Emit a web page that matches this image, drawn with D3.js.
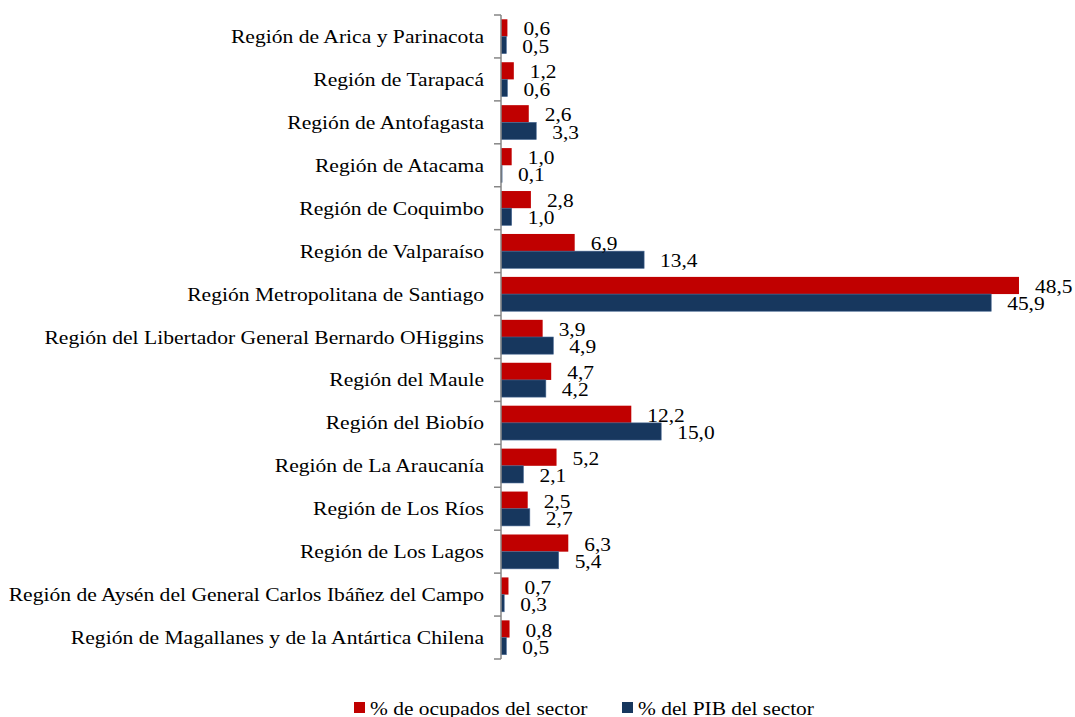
<!DOCTYPE html>
<html>
<head>
<meta charset="utf-8">
<script src="https://cdn.jsdelivr.net/npm/d3@7"></script>
<style>
  body { margin: 0; background: #fff; }
</style>
</head>
<body>
<div id="chart"></div>
<script>
const categories = [
  'Región de Arica y Parinacota',
  'Región de Tarapacá',
  'Región de Antofagasta',
  'Región de Atacama',
  'Región de Coquimbo',
  'Región de Valparaíso',
  'Región Metropolitana de Santiago',
  'Región del Libertador General Bernardo OHiggins',
  'Región del Maule',
  'Región del Biobío',
  'Región de La Araucanía',
  'Región de Los Ríos',
  'Región de Los Lagos',
  'Región de Aysén del General Carlos Ibáñez del Campo',
  'Región de Magallanes y de la Antártica Chilena'
]
const ocupados = [0.6, 1.2, 2.6, 1.0, 2.8, 6.9, 48.5, 3.9, 4.7, 12.2, 5.2, 2.5, 6.3, 0.7, 0.8]
const pib = [0.5, 0.6, 3.3, 0.1, 1.0, 13.4, 45.9, 4.9, 4.2, 15.0, 2.1, 2.7, 5.4, 0.3, 0.5]
const seriesNames = ['% de ocupados del sector', '% del PIB del sector']

const config = {
  width: 1075,
  height: 717,
  axisX: 501,
  plotTop: 15,
  plotBottom: 659,
  xMax: 50,
  pxPerUnit: 10.68,
  stretch: 1.19,
  colors: ['#C00000', '#17375E']
}

const fmt = v => d3.format('.1f')(v).replace('.', ',')
const stretchAt = (x, y, k = config.stretch) => `translate(${x},${y}) scale(${k},1)`

const svg = d3.select('#chart').append('svg')
  .attr('width', config.width)
  .attr('height', config.height)
  .attr('font-family', 'Liberation Serif')
  .attr('font-size', 18)

const x = d3.scaleLinear()
  .domain([0, config.xMax])
  .range([config.axisX, config.axisX + config.xMax * config.pxPerUnit])

const y = d3.scaleBand()
  .domain(categories)
  .range([config.plotTop, config.plotBottom])
  .paddingInner(0.2)
  .paddingOuter(0.1)

const sub = d3.scaleBand()
  .domain([0, 1])
  .range([0, y.bandwidth()])

const rows = categories.map((c, i) => ({ label: c, values: [ocupados[i], pib[i]] }))

// bars
const groups = svg.selectAll('.row')
  .data(rows)
  .enter()
  .append('g')
  .attr('class', 'row')
  .attr('transform', d => `translate(0,${y(d.label)})`)

groups.selectAll('rect')
  .data(d => d.values.map((v, s) => ({ v, s })))
  .enter()
  .append('rect')
  .attr('x', x(0))
  .attr('y', d => sub(d.s))
  .attr('width', d => x(d.v) - x(0))
  .attr('height', sub.bandwidth())
  .attr('fill', d => config.colors[d.s])
  .attr('stroke', d => d.s === 1 ? '#4a6a94' : 'none')
  .attr('stroke-width', 0.6)

// value labels
groups.selectAll('text.value')
  .data(d => d.values.map((v, s) => ({ v, s })))
  .enter()
  .append('text')
  .attr('class', 'value')
  .attr('transform', d => stretchAt(x(d.v) + 16, sub(d.s) + sub.bandwidth() - 1))
  .text(d => fmt(d.v))

// axis line and ticks
const step = y.step()
const tickYs = d3.range(categories.length + 1).map(i => config.plotTop + i * step)
svg.append('line')
  .attr('x1', config.axisX).attr('x2', config.axisX)
  .attr('y1', config.plotTop).attr('y2', config.plotBottom)
  .attr('stroke', '#868686').attr('stroke-width', 1.5)
svg.selectAll('.tick')
  .data(tickYs)
  .enter()
  .append('line')
  .attr('x1', config.axisX - 7).attr('x2', config.axisX)
  .attr('y1', d => d).attr('y2', d => d)
  .attr('stroke', '#868686').attr('stroke-width', 1.5)

// category labels
svg.selectAll('.cat')
  .data(categories)
  .enter()
  .append('text')
  .attr('class', 'cat')
  .attr('text-anchor', 'end')
  .attr('transform', d => stretchAt(484, y(d) + y.bandwidth() / 2 + 6.5, 1.2))
  .text(d => d)

// legend
const legendItems = [{ x: 354, s: 0 }, { x: 622, s: 1 }]
const legend = svg.selectAll('.legend')
  .data(legendItems)
  .enter()
  .append('g')
  .attr('class', 'legend')
legend.append('rect')
  .attr('x', d => d.x).attr('y', 702)
  .attr('width', 11).attr('height', 11)
  .attr('fill', d => config.colors[d.s])
legend.append('text')
  .attr('transform', d => stretchAt(d.x + 16, 715))
  .text(d => seriesNames[d.s])
</script>
</body>
</html>
